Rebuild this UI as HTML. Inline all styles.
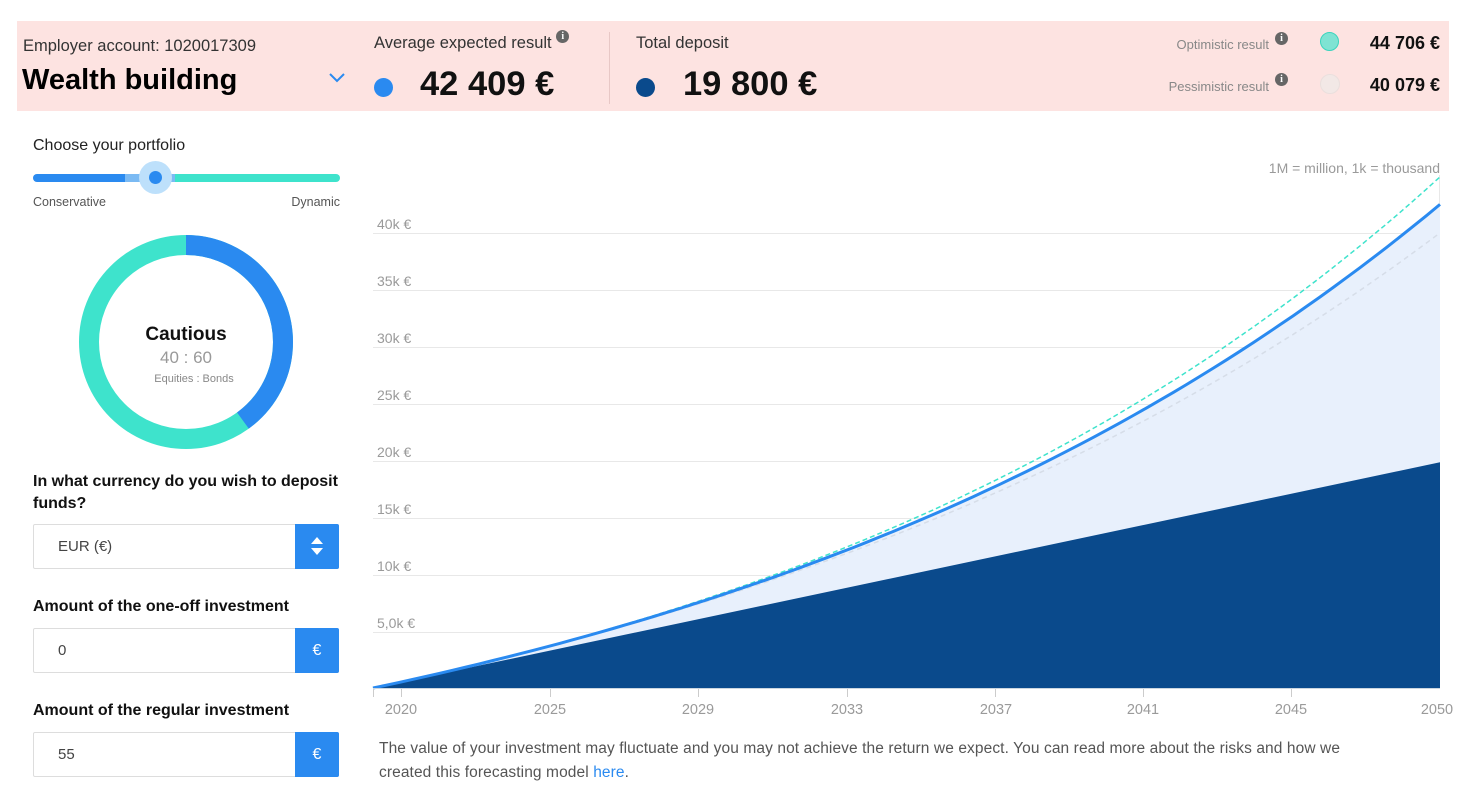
<!DOCTYPE html>
<html><head><meta charset="utf-8"><style>
body{margin:0;width:1470px;height:800px;background:#fff;font-family:"Liberation Sans",Arial,sans-serif;position:relative;overflow:hidden}
.a{position:absolute;white-space:nowrap}
.hdr{position:absolute;left:17px;top:21px;width:1432px;height:90px;background:#fde3e1}
.info{display:inline-block;width:13px;height:13px;border-radius:50%;background:#666;color:#fff;font-size:10px;font-weight:bold;text-align:center;line-height:13px;font-family:"Liberation Serif",serif}
.dot{position:absolute;border-radius:50%}
.lbl{font-weight:bold;font-size:16px;color:#111}
.inp{position:absolute;left:33px;width:306px;height:45px;border:1px solid #ddd;border-radius:2px;box-sizing:border-box;background:#fff}
.btn{position:absolute;right:-1px;top:-1px;width:44px;height:45px;background:#2a8af0;color:#fff;font-size:16px;text-align:center;line-height:45px;border-radius:0 2px 2px 0}
.inp span{position:absolute;left:24px;top:13px;font-size:15px;color:#444}
</style></head><body>
<div class="hdr"></div>
<div class="a" style="left:23px;top:37px;font-size:16.5px;color:#333">Employer account: 1020017309</div>
<div class="a" style="left:22px;top:64px;font-size:29px;font-weight:bold;color:#000">Wealth building</div>
<svg class="a" style="left:329px;top:73px" width="16" height="10"><path d="M1 1 L8 8 L15 1" fill="none" stroke="#2a8af0" stroke-width="2"/></svg>
<div class="a" style="left:374px;top:34px;font-size:16.5px;color:#333">Average expected result <span class="info" style="vertical-align:top;margin-top:-4px">i</span></div>
<div class="dot" style="left:374px;top:78px;width:19px;height:19px;background:#2a8af0"></div>
<div class="a" style="left:420px;top:65px;font-size:34.5px;font-weight:bold;color:#111">42 409 €</div>
<div class="a" style="left:609px;top:32px;width:1px;height:72px;background:#e8c8c6"></div>
<div class="a" style="left:636px;top:34px;font-size:16.5px;color:#333">Total deposit</div>
<div class="dot" style="left:636px;top:78px;width:19px;height:19px;background:#0a4a8c"></div>
<div class="a" style="left:683px;top:65px;font-size:34.5px;font-weight:bold;color:#111">19 800 €</div>
<div class="a" style="right:201px;top:37px;font-size:13px;color:#888">Optimistic result</div>
<span class="info a" style="left:1275px;top:32px">i</span>
<div class="dot" style="left:1320px;top:32px;width:17px;height:17px;background:#7fe3d3;border:1px solid #3ad4bd"></div>
<div class="a" style="right:30px;top:33px;font-size:18px;font-weight:bold;color:#111">44 706 €</div>
<div class="a" style="right:201px;top:79px;font-size:13px;color:#888">Pessimistic result</div>
<span class="info a" style="left:1275px;top:73px">i</span>
<div class="dot" style="left:1320px;top:74px;width:18px;height:18px;background:#f2e8e6;border:1px solid #eadfdd"></div>
<div class="a" style="right:30px;top:75px;font-size:18px;font-weight:bold;color:#111">40 079 €</div>

<div class="a" style="left:33px;top:137px;font-size:16px;color:#222">Choose your portfolio</div>
<div class="a" style="left:33px;top:174px;width:100px;height:8px;background:#2a8af0;border-radius:4px 0 0 4px"></div>
<div class="a" style="left:125px;top:174px;width:60px;height:8px;background:#7bbaf3"></div>
<div class="a" style="left:175px;top:174px;width:165px;height:8px;background:#3ee3cc;border-radius:0 4px 4px 0"></div>
<div class="dot" style="left:139px;top:161px;width:33px;height:33px;background:#bde0fb"></div>
<div class="dot" style="left:149px;top:171px;width:13px;height:13px;background:#2a8af0"></div>
<div class="a" style="left:33px;top:195px;font-size:12.5px;color:#555">Conservative</div>
<div class="a" style="right:1130px;top:195px;font-size:12.5px;color:#555">Dynamic</div>

<svg class="a" style="left:76px;top:232px" width="220" height="220">
<circle cx="110" cy="110" r="97" fill="none" stroke="#3ee3cc" stroke-width="20"/>
<circle cx="110" cy="110" r="97" fill="none" stroke="#2a8af0" stroke-width="20" stroke-dasharray="243.8 1000" transform="rotate(-90 110 110)"/>
</svg>
<div class="a" style="left:86px;width:200px;text-align:center;top:324px;font-size:19px;font-weight:bold;color:#111">Cautious</div>
<div class="a" style="left:86px;width:200px;text-align:center;top:348px;font-size:17px;color:#999">40 : 60</div>
<div class="a" style="left:94px;width:200px;text-align:center;top:373px;font-size:11px;color:#888">Equities : Bonds</div>

<div class="a lbl" style="left:33px;top:471px;line-height:22px;white-space:normal;width:320px">In what currency do you wish to deposit funds?</div>
<div class="inp" style="top:524px"><span>EUR (€)</span><div class="btn"><svg width="12" height="18" style="margin-top:13px"><path d="M6 0 L12 7 H0Z M6 18 L12 11 H0Z" fill="#fff"/></svg></div></div>
<div class="a lbl" style="left:33px;top:598px">Amount of the one-off investment</div>
<div class="inp" style="top:628px"><span>0</span><div class="btn">€</div></div>
<div class="a lbl" style="left:33px;top:702px">Amount of the regular investment</div>
<div class="inp" style="top:732px"><span>55</span><div class="btn">€</div></div>

<svg class="a" style="left:0;top:0" width="1470" height="800" id="ch">
<g stroke="#e8e8e8" stroke-width="1">
<line x1="373" x2="1440" y1="233.5" y2="233.5"/><line x1="373" x2="1440" y1="290.5" y2="290.5"/><line x1="373" x2="1440" y1="347.5" y2="347.5"/><line x1="373" x2="1440" y1="404.5" y2="404.5"/><line x1="373" x2="1440" y1="461.5" y2="461.5"/><line x1="373" x2="1440" y1="518.5" y2="518.5"/><line x1="373" x2="1440" y1="575.5" y2="575.5"/><line x1="373" x2="1440" y1="632.5" y2="632.5"/>
<line x1="1439.5" x2="1439.5" y1="175" y2="688"/>
</g>
<g font-size="14" fill="#9a9a9a">
<text x="377" y="229">40k €</text><text x="377" y="286">35k €</text><text x="377" y="343">30k €</text><text x="377" y="400">25k €</text><text x="377" y="457">20k €</text><text x="377" y="514">15k €</text><text x="377" y="571">10k €</text><text x="377" y="628">5,0k €</text>
<text x="1440" y="173" text-anchor="end">1M = million, 1k = thousand</text>
</g>
<path id="fill" fill="#e8f0fc"/>
<path id="dep" fill="#0a4a8c"/>
<path id="pes" fill="none" stroke="#d6dde8" stroke-width="1.5" stroke-dasharray="5 4"/>
<path id="opt" fill="none" stroke="#3ee3cc" stroke-width="1.5" stroke-dasharray="5 3"/>
<path id="exp" fill="none" stroke="#2a8af0" stroke-width="3"/>
<line x1="373" x2="1440" y1="688.5" y2="688.5" stroke="#ccd6e0"/>
<g stroke="#ccc"><line x1="373.5" x2="373.5" y1="689" y2="697"/><line x1="401.5" x2="401.5" y1="689" y2="697"/><line x1="550.5" x2="550.5" y1="689" y2="697"/><line x1="698.5" x2="698.5" y1="689" y2="697"/><line x1="847.5" x2="847.5" y1="689" y2="697"/><line x1="995.5" x2="995.5" y1="689" y2="697"/><line x1="1143.5" x2="1143.5" y1="689" y2="697"/><line x1="1291.5" x2="1291.5" y1="689" y2="697"/></g>
<g font-size="14.5" fill="#9a9a9a" text-anchor="middle">
<text x="401" y="714">2020</text><text x="550" y="714">2025</text><text x="698" y="714">2029</text><text x="847" y="714">2033</text><text x="996" y="714">2037</text><text x="1143" y="714">2041</text><text x="1291" y="714">2045</text><text x="1437" y="714">2050</text>
</g>
</svg>
<div class="a" style="left:379px;top:737px;font-size:15.5px;color:#555;line-height:24px;letter-spacing:0.1px">The value of your investment may fluctuate and you may not achieve the return we expect. You can read more about the risks and how we<br>created this forecasting model <span style="color:#2a8af0">here</span>.</div>
<script>
(function(){
var x0=373,x1=1440,y0=688,s=11.4,D=19.8;
function X(t){return x0+(x1-x0)*t}
function curve(k){var p=[],n=80;for(var i=0;i<=n;i++){var t=i/n;var v=D*((Math.exp(k*t)-1)/k);p.push([X(t),y0-v*s]);}return p;}
function str(p){return p.map(function(q,i){return (i?'L':'M')+q[0].toFixed(1)+' '+q[1].toFixed(1)}).join(' ')}
var e=curve(1.37),o=curve(1.46),pe=curve(1.27);
document.getElementById('exp').setAttribute('d',str(e));
document.getElementById('opt').setAttribute('d',str(o));
document.getElementById('pes').setAttribute('d',str(pe));
document.getElementById('fill').setAttribute('d',str(e)+' L'+x1+' '+y0+' L'+x0+' '+y0+'Z');
document.getElementById('dep').setAttribute('d','M'+x0+' '+y0+' L'+x1+' '+(y0-D*s)+' L'+x1+' '+y0+'Z');
})();
</script>
</body></html>
